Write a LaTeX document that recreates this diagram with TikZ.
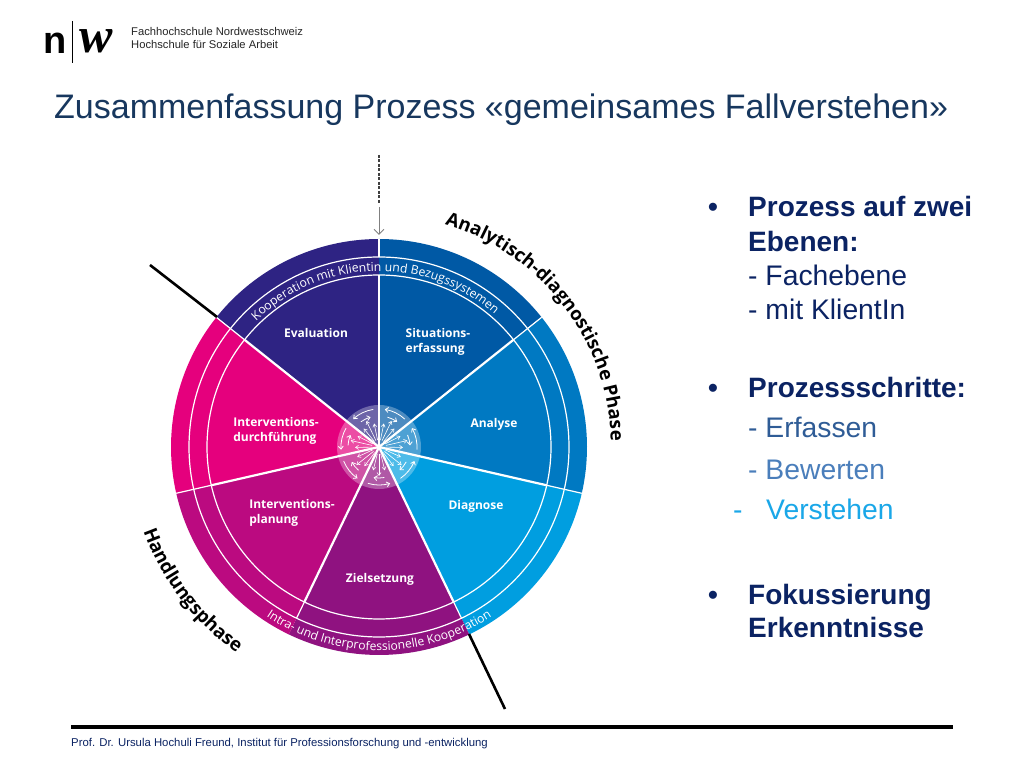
\documentclass[tikz,border=0pt]{standalone}
\usepackage{fontspec}
\setmainfont{Liberation Sans}
\newfontfamily\wheelfont{Open Sans}
\newfontfamily\logofont{Liberation Serif}
\usetikzlibrary{decorations.text,arrows.meta,calc}
\definecolor{cEval}{HTML}{2E2383}
\definecolor{cSit}{HTML}{0059A5}
\definecolor{cAna}{HTML}{0079C2}
\definecolor{cDia}{HTML}{009EE0}
\definecolor{cZiel}{HTML}{8F1280}
\definecolor{cPlan}{HTML}{BB0A80}
\definecolor{cDurch}{HTML}{E5007D}
\definecolor{titleblue}{HTML}{17375E}
\definecolor{boldblue}{HTML}{0B2363}
\definecolor{stepa}{HTML}{2F5C96}
\definecolor{stepb}{HTML}{4A7EBB}
\definecolor{stepc}{HTML}{1AA7E8}
\tikzset{
  x=1pt,y=1pt,
  spoke/.style={draw=white,line width=2.2pt},
  thinspoke/.style={draw=white,line width=1.2pt},
  ring/.style={draw=white,line width=1.2pt},
  wheellabel/.style={text=white,font=\wheelfont\bfseries\fontsize{12}{14.8}\selectfont,align=left,anchor=center,inner sep=0pt},
  bullettext/.style={anchor=base west,inner sep=0pt,font=\fontsize{28.3}{32}\selectfont,text=boldblue},
  boldtext/.style={bullettext,font=\bfseries\fontsize{28}{32}\selectfont},
  radarrow/.style={draw=white,line width=0.6pt,-{Straight Barb[length=3pt,width=4pt]}},
  circarrow/.style={draw=white,line width=0.8pt,-{Straight Barb[length=3pt,width=5pt]}}
}
\begin{document}
\begin{tikzpicture}
\useasboundingbox (0,0) rectangle (1024,768);
\fill[white] (0,0) rectangle (1024,768);
\coordinate (c) at (379,321);
% sectors
\foreach \a/\b/\col in {38.57/90/cSit,-12.86/38.57/cAna,-64.29/-12.86/cDia,-115.71/-64.29/cZiel,-167.14/-115.71/cPlan,-218.57/-167.14/cDurch,-270/-218.57/cEval}{
  \fill[\col] (c) -- ++(\a:208pt) arc[start angle=\a,end angle=\b,radius=208pt] -- cycle;
}
% rings
\draw[ring] (c) circle[radius=190pt];
\draw[ring] (c) circle[radius=172pt];
% hub
\fill[white,opacity=0.3] (c) circle[radius=42pt];
% spokes: thick inside the inner ring
\foreach \a in {90,38.57,-12.86,-64.29,-115.71,-167.14,141.43}{
  \draw[spoke] (c) -- ++(\a:172pt);
}
% thin continuation through the rings
\foreach \a in {38.57,-12.86,-167.14,141.43}{
  \draw[thinspoke] (c) ++(\a:172pt) -- ++(\a:36pt);
}
\foreach \a in {-64.29,-115.71}{
  \draw[thinspoke] (c) ++(\a:172pt) -- ++(\a:18pt);
}
\draw[thinspoke] (c) ++(90:190pt) -- ++(90:18pt);
% hub arrows
\foreach \a in {64.3,12.9,-38.6,-90,-141.4,167.1,115.7}{
  \foreach \d/\r in {-14/17,0/22,14/17}{
    \draw[radarrow] (c) ++(\a+\d:7pt) -- ++(\a+\d:\r pt);
  }
  \draw[circarrow] (c) ++(\a-17:38pt) arc[start angle=\a-17,end angle=\a+17,radius=38pt];
  \draw[circarrow] (c) ++(\a+10:31pt) arc[start angle=\a+10,end angle=\a-10,radius=31pt];
}
% black phase lines
\coordinate (p1) at (150,503);
\coordinate (p2) at (217,451);
\coordinate (p3) at (469,134);
\coordinate (p4) at (505,59);
\draw[black,line width=2.6pt] (p1) -- (p2);
\draw[black,line width=2.6pt] (p3) -- (p4);
% entry arrow
\coordinate (e1) at (379,613);
\coordinate (e2) at (379,565);
\coordinate (e3) at (379,561);
\coordinate (e4) at (379,533);
\draw[black!75,line width=1.3pt,dash pattern=on 3pt off 1.5pt] (e1) -- (e2);
\draw[black!50,line width=1pt,-{Straight Barb[length=5pt,width=10pt]}] (e3) -- (e4);
% curved texts
\path[postaction={decorate},decoration={text along path,text align=center,
  text={|\wheelfont\fontsize{12.2}{14}\selectfont\color{white}|Kooperation mit Klientin und Bezugssystemen}}]
  (c) ++(141:176pt) arc[start angle=141,end angle=42.2,radius=176pt];
\path[postaction={decorate},decoration={text along path,text align=center,
  text={|\wheelfont\fontsize{12.1}{14}\selectfont\color{white}|Intra- und Interprofessionelle Kooperation}}]
  (c) ++(-132:203.5pt) arc[start angle=-132,end angle=-48,radius=203.5pt];
\path[postaction={decorate},decoration={text along path,text align=center,
  text={|\wheelfont\bfseries\fontsize{18.6}{22}\selectfont\color{black}|Analytisch-diagnostische Phase}}]
  (c) ++(79:232pt) arc[start angle=79,end angle=-4,radius=232pt];
\path[postaction={decorate},decoration={text along path,text align=center,
  text={|\wheelfont\bfseries\fontsize{18.7}{22}\selectfont\color{black}|Handlungsphase}}]
  (c) ++(190:250pt) arc[start angle=190,end angle=245,radius=250pt];
% wheel labels
\node[wheellabel] (eval) at (316,435) {Evaluation};
\node[wheellabel] (sit) at (438,426.5) {Situations-\\erfassung};
\node[wheellabel] (ana) at (494,343.5) {Analyse};
\node[wheellabel] (dia) at (476,261.5) {Diagnose};
\node[wheellabel] (ziel) at (380,188.5) {Zielsetzung};
\node[wheellabel] (plan) at (292,255) {Interventions-\\planung};
\node[wheellabel] (durch) at (276,337) {Interventions-\\durchführung};
% header
\node[anchor=center,inner sep=0pt,font=\bfseries\fontsize{38}{40}\selectfont] (logon) at (55,725) {n};
\draw[black,line width=1pt] (72.5,747) -- (72.5,705);
\node[anchor=center,inner sep=0pt,font=\logofont\itshape\bfseries\fontsize{50}{50}\selectfont] (logow) at (96,727) {w};
\node[anchor=base west,inner sep=0pt,font=\fontsize{11.2}{13.5}\selectfont,text=black!85] (hdr) at (131,732) {Fachhochschule Nordwestschweiz};
\node[anchor=base west,inner sep=0pt,font=\fontsize{11.2}{13.5}\selectfont,text=black!85] (hdr2) at (131,719) {Hochschule für Soziale Arbeit};
\node[anchor=base west,inner sep=0pt,font=\fontsize{34}{38}\selectfont,text=titleblue] (title) at (54,649) {Zusammenfassung Prozess «gemeinsames Fallverstehen»};
% right list
\node[boldtext,anchor=base] (b1) at (713,551) {•};
\node[boldtext] (t1) at (748,551) {Prozess auf zwei};
\node[boldtext] (t2) at (748,516) {Ebenen:};
\node[bullettext] (t3) at (748,482.5) {- Fachebene};
\node[bullettext] (t4) at (748,448) {- mit KlientIn};
\node[boldtext,anchor=base] (b2) at (713,370.5) {•};
\node[boldtext] (t5) at (748,370.5) {Prozessschritte:};
\node[bullettext,text=stepa] (t6) at (748,330) {- Erfassen};
\node[bullettext,text=stepb] (t7) at (748,288.5) {- Bewerten};
\node[bullettext,text=stepc] (t8a) at (733,248) {-};
\node[bullettext,text=stepc] (t8) at (766,248) {Verstehen};
\node[boldtext,anchor=base] (b3) at (713,163.5) {•};
\node[boldtext] (t9) at (748,163.5) {Fokussierung};
\node[boldtext] (t10) at (748,130.5) {Erkenntnisse};
% footer
\coordinate (f1) at (71,41);
\coordinate (f2) at (953,41);
\draw[black,line width=4.5pt] (f1) -- (f2);
\node[anchor=base west,inner sep=0pt,font=\fontsize{11.35}{14}\selectfont,text=boldblue] (foot) at (71,22) {Prof. Dr. Ursula Hochuli Freund, Institut für Professionsforschung und -entwicklung};
\end{tikzpicture}
\end{document}
